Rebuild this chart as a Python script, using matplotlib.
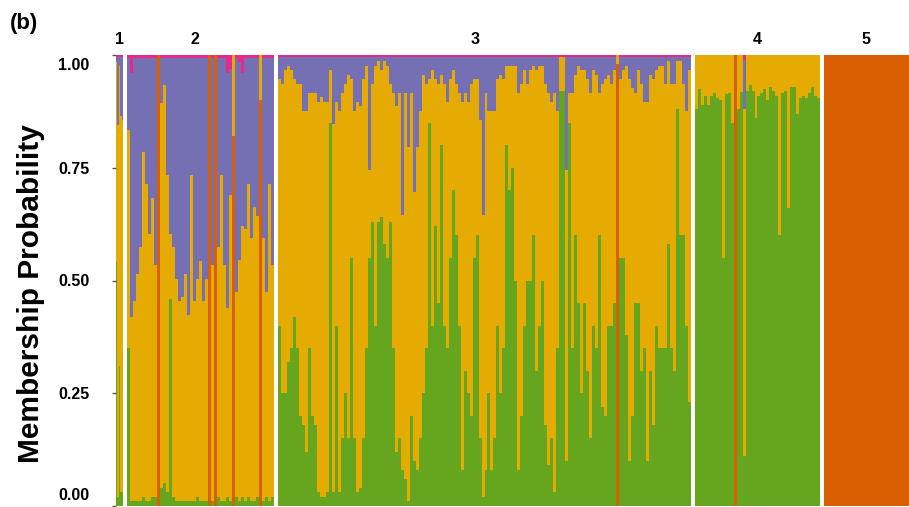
"""STRUCTURE-style membership bar plot, panel (b)."""

import matplotlib

matplotlib.use("Agg")
import matplotlib.pyplot as plt  # noqa: E402
import numpy as np  # noqa: E402
from matplotlib.transforms import ScaledTranslation  # noqa: E402

plt.rcParams["font.family"] = ["Liberation Sans", "DejaVu Sans"]

# cluster colours, stacked bottom -> top
ORANGE = "#D95F02"
GREEN = "#66A61E"
YELLOW = "#E6AB02"
PURPLE = "#7570B3"
MAGENTA = "#E7298A"

group_labels = ["1", "2", "3", "4", "5"]

# membership (%) per bar; yellow is the remainder to 100
g1_green = [54, 2, 31, 3, 3]
g1_purple = [1, 15, 2, 13, 14]
g1_orange = {}
g1_magenta = {}

g2_green = [35, 1, 1, 1, 1, 2, 1, 1, 2, 2,
            0, 4, 5, 3, 46, 2, 1, 1, 1, 1,
            1, 1, 1, 2, 1, 1, 1, 0, 1, 0,
            2, 1, 1, 2, 1, 0, 2, 1, 2, 1,
            2, 1, 1, 2, 0, 1, 2, 1, 2]
g2_purple = [16, 54, 54, 48, 42, 21, 28, 39, 31, 46,
             0, 10, 6, 26, 39, 42, 49, 54, 53, 48,
             57, 26, 54, 49, 45, 54, 49, 0, 46, 0,
             42, 26, 46, 52, 28, 0, 52, 44, 34, 38,
             28, 40, 33, 35, 0, 40, 52, 28, 46]
g2_orange = {10: 100, 27: 100, 29: 100, 35: 82, 44: 90}
g2_magenta = {1: 4, 10: 0, 27: 0, 29: 0, 33: 4, 34: 3, 35: 0, 37: 1.5, 38: 4, 44: 0}

g3_green = [40, 25, 25, 32, 35, 42, 35, 20, 18, 12,
            35, 20, 18, 3, 2, 2, 3, 85, 3, 40,
            3, 15, 25, 15, 55, 15, 3, 4, 15, 35,
            55, 63, 40, 63, 64, 58, 55, 63, 35, 12,
            15, 8, 6, 1, 20, 10, 8, 15, 25, 35,
            85, 40, 62, 45, 80, 40, 35, 55, 70, 60,
            40, 8, 30, 25, 20, 55, 60, 15, 2, 8,
            25, 8, 15, 40, 25, 35, 80, 70, 75, 50,
            8, 20, 40, 50, 50, 60, 30, 40, 50, 18,
            9, 15, 3, 35, 92, 92, 10, 85, 35, 60,
            45, 25, 45, 30, 15, 40, 35, 60, 22, 20,
            40, 40, 45, 0, 55, 55, 38, 10, 20, 45,
            45, 30, 35, 10, 30, 18, 40, 35, 35, 35,
            58, 35, 30, 88, 60, 60, 40, 23]
g3_purple = [5, 6, 3, 2, 3, 5, 6, 6, 12, 12,
             8, 8, 8, 10, 9, 10, 10, 3, 15, 10,
             12, 8, 6, 4, 5, 12, 10, 11, 5, 2,
             25, 6, 2, 1, 3, 1, 2, 6, 8, 11,
             8, 35, 8, 20, 8, 30, 20, 12, 4, 6,
             5, 3, 5, 6, 4, 6, 10, 5, 3, 6,
             8, 10, 8, 10, 6, 5, 5, 14, 35, 8,
             12, 12, 12, 5, 4, 5, 2, 2, 2, 2,
             8, 6, 3, 6, 3, 2, 3, 2, 2, 6,
             8, 10, 8, 12, 0, 0, 25, 8, 8, 4,
             2, 3, 3, 5, 8, 3, 4, 8, 6, 5,
             4, 6, 3, 0, 5, 3, 2, 5, 7, 8,
             3, 6, 10, 10, 4, 5, 3, 2, 2, 6,
             1, 6, 6, 1, 1, 6, 12, 3]
g3_orange = {113: 98}
g3_magenta = {113: 0}

g4_green = [88, 92.5, 89, 91, 89, 91, 91.5, 90.5, 90, 55,
            91.3, 91.5, 85, 0, 88, 91.8, 11, 92, 93.3, 92,
            86, 91, 91.5, 92.5, 90, 93, 92, 91, 60, 91.5,
            92, 66, 93, 92.8, 87, 90.5, 91, 90.5, 91.5, 93,
            90.8, 90.5]
g4_purple = {16: 11}
g4_orange = {13: 100}
g4_magenta = {16: 1.0}

g5_green = [0]
g5_orange = {0: 100}

# thin top layer (magenta) that runs across most bars of a group
magenta_base = [0.5, 0.6, 0.4, 0.0, 0.0]


def sparse(n, values):
    arr = np.zeros(n)
    for i, v in values.items():
        arr[i] = v
    return arr


def with_base(n, base, values):
    arr = np.full(n, base)
    for i, v in values.items():
        arr[i] = v
    return arr


groups = []
for k, (green, purple, orange, mag) in enumerate([
    (g1_green, g1_purple, g1_orange, g1_magenta),
    (g2_green, g2_purple, g2_orange, g2_magenta),
    (g3_green, g3_purple, g3_orange, g3_magenta),
    (g4_green, g4_purple, g4_orange, g4_magenta),
    (g5_green, {}, g5_orange, {}),
]):
    green = np.asarray(green, float)
    n = len(green)
    purple = sparse(n, purple) if isinstance(purple, dict) else np.asarray(purple, float)
    groups.append({
        "orange": sparse(n, orange),
        "green": green,
        "purple": purple,
        "magenta": with_base(n, magenta_base[k], mag),
    })

# panel extents in pixels of the 909 x 507 figure
W, H = 909, 507
panels_px = [(116, 123), (127, 274), (278, 691), (695, 820), (824, 909)]
top_px, bot_px = 55, 506
title_x = [0.5, 0.46, 0.477, 0.5, 0.5]

fig = plt.figure(figsize=(W / 100, H / 100), dpi=100)
axes = []
for (x0, x1), g, lab, tx in zip(panels_px, groups, group_labels, title_x):
    ax = fig.add_axes([x0 / W, 1 - bot_px / H, (x1 - x0) / W, (bot_px - top_px) / H])
    n = len(g["green"])
    edges = np.arange(n + 1) - 0.5
    yellow = 100 - g["orange"] - g["green"] - g["purple"] - g["magenta"]
    bottom = np.zeros(n)
    for vals, col in [(g["orange"], ORANGE), (g["green"], GREEN), (yellow, YELLOW),
                      (g["purple"], PURPLE), (g["magenta"], MAGENTA)]:
        top = bottom + vals
        ax.fill_between(edges, np.append(bottom, bottom[-1]) / 100,
                        np.append(top, top[-1]) / 100, step="post",
                        color=col, linewidth=0)
        bottom = top
    ax.set_xlim(-0.5, n - 0.5)
    ax.set_ylim(0, 1)
    ax.set_xticks([])
    ax.set_yticks([])
    for s in ax.spines.values():
        s.set_visible(False)
    ax.set_title(lab, fontsize=11.5, fontweight="bold", pad=8, x=tx)
    axes.append(ax)

ax0 = axes[0]
ax0.set_yticks([0, 0.25, 0.5, 0.75, 1.0])
ax0.set_yticklabels(["0.00", "0.25", "0.50", "0.75", "1.00"])
ax0.tick_params(axis="y", length=3, width=1, color="#555555", pad=16, labelsize=11.5)
for lbl in ax0.get_yticklabels():
    lbl.set_fontweight("bold")
ticks = ax0.yaxis.get_major_ticks()
ticks[0].label1.set_transform(
    ticks[0].label1.get_transform() + ScaledTranslation(0, 0.12, fig.dpi_scale_trans))
ticks[-1].label1.set_transform(
    ticks[-1].label1.get_transform() + ScaledTranslation(0, -0.09, fig.dpi_scale_trans))

fig.text(31 / W, 1 - 294 / H, "Membership Probability", rotation=90,
         fontsize=21.5, fontweight="bold", ha="center", va="center")
fig.text(10 / W, 1 - 24 / H, "(b)", fontsize=16, fontweight="bold", ha="left", va="center")

fig.savefig("out.png", dpi=100)
plt.close(fig)
